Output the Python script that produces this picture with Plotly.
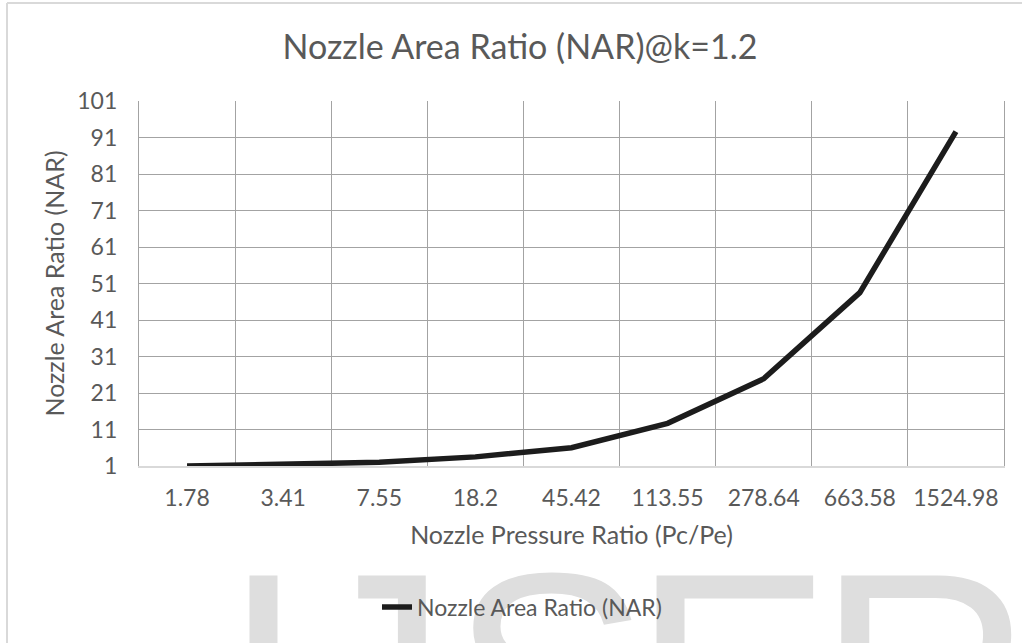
import plotly.graph_objects as go

# Nozzle pressure ratio categories (Pc/Pe) and the corresponding nozzle area ratio
pressure_ratio = ["1.78", "3.41", "7.55", "18.2", "45.42", "113.55", "278.64", "663.58", "1524.98"]
area_ratio = [1.0, 1.4, 2.0, 3.5, 6.0, 12.7, 24.9, 48.5, 92.6]

y_ticks = [1, 11, 21, 31, 41, 51, 61, 71, 81, 91, 101]

# Page and plot-area geometry in pixels
W, H = 1022, 643
PL, PR, PT, PB = 139, 1004, 101, 466

TEXT = "#595959"
GRID = "#a3a3a3"
FONT = "Lato, Carlito, 'Liberation Sans', sans-serif"


def fx(p):
    """pixel column -> paper fraction"""
    return p / W


def fy(p):
    """pixel row -> paper fraction"""
    return 1 - p / H


fig = go.Figure()

fig.add_trace(go.Scatter(
    x=pressure_ratio, y=area_ratio,
    mode="lines", name="Nozzle Area Ratio (NAR)",
    line=dict(color="#1c1c1c", width=5.5),
))

# Light-grey "IJSER" backdrop lettering on a full-page pixel-space subplot
wm_letters = ["I", "J", "S", "E", "R"]
wm_x = [263.5, 373, 550, 732, 925]
fig.add_trace(go.Scatter(
    x=wm_x, y=[557] * len(wm_x), xaxis="x2", yaxis="y2",
    mode="text", text=wm_letters, textposition="bottom center",
    textfont=dict(family="'Liberation Sans', Arial, sans-serif", size=300, color="#dedede"),
    cliponaxis=False, showlegend=False, hoverinfo="skip",
))

fig.update_layout(
    template="none",
    width=W, height=H,
    margin=dict(l=0, r=0, t=0, b=0, autoexpand=False),
    paper_bgcolor="white", plot_bgcolor="rgba(0,0,0,0)",
    font=dict(family=FONT, color=TEXT),
    title=dict(
        text="Nozzle Area Ratio (NAR)@k=1.2",
        x=520 / W, xanchor="center", y=1 - 47 / H, yanchor="middle",
        font=dict(size=34, color=TEXT),
    ),
    xaxis=dict(
        domain=[fx(PL), fx(PR)], anchor="y", automargin=False,
        type="category", range=[-0.5, len(pressure_ratio) - 0.5],
        tickson="boundaries", ticks="", showgrid=True, gridcolor=GRID, gridwidth=1.3,
        showline=True, linecolor="#d9d9d9", linewidth=2,
        tickfont=dict(size=23, color=TEXT), ticklabelstandoff=10,
        title=dict(text="Nozzle Pressure Ratio (Pc/Pe)", font=dict(size=25, color=TEXT), standoff=17),
        zeroline=False, fixedrange=True,
    ),
    yaxis=dict(
        domain=[fy(PB), fy(PT)], anchor="x", automargin=False,
        range=[1, 101], tickmode="array", tickvals=y_ticks,
        showgrid=True, gridcolor=GRID, gridwidth=1.3,
        showline=True, mirror=True, linecolor=GRID, linewidth=1.3,
        tickfont=dict(size=23, color=TEXT), ticklabelstandoff=16, ticks="",
        title=dict(text="Nozzle Area Ratio (NAR)", font=dict(size=25, color=TEXT), standoff=5),
        zeroline=False, fixedrange=True,
    ),
    xaxis2=dict(domain=[0, 1], anchor="y2", range=[0, W], visible=False,
                fixedrange=True, automargin=False),
    yaxis2=dict(domain=[0, 1], anchor="x2", range=[H, 0], visible=False,
                fixedrange=True, automargin=False),
    showlegend=True,
    legend=dict(
        orientation="h", x=fx(522), xanchor="center", y=fy(607), yanchor="middle",
        font=dict(size=23, color=TEXT), bgcolor="rgba(0,0,0,0)",
    ),
    shapes=[
        # chart-area frame (left and top edges)
        dict(type="line", xref="paper", yref="paper",
             x0=fx(7), x1=fx(7), y0=fy(3), y1=fy(H + 5),
             line=dict(color="#d9d9d9", width=2)),
        dict(type="line", xref="paper", yref="paper",
             x0=fx(7), x1=fx(W + 5), y0=fy(3), y1=fy(3),
             line=dict(color="#d9d9d9", width=2)),
    ],
)

fig.write_html("out.html")
